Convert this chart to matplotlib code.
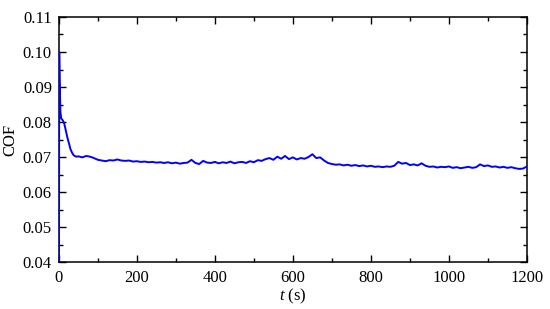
import numpy as np
import matplotlib
matplotlib.use('Agg')
import matplotlib.pyplot as plt
from matplotlib.ticker import MultipleLocator

# start-up part of the run
t_start = [0, 1, 2, 4, 6, 10, 14, 18, 22, 26, 30, 34, 38, 42, 46]
cof_start = [0.0, 0.100, 0.092, 0.083, 0.081, 0.0805, 0.0795, 0.0775, 0.0755,
             0.0738, 0.0722, 0.0712, 0.0705, 0.0702, 0.0701]

# steady part, every 10 s from 50 to 1200 s
t_steady = list(range(50, 1201, 10))
cof_steady = [
    0.0702, 0.0699, 0.0703, 0.0701, 0.0697, 0.0692, 0.0690, 0.0688, 0.0691, 0.0690,
    0.0693, 0.0690, 0.0689, 0.0690, 0.0687, 0.0688, 0.0686, 0.0687, 0.0685, 0.0686,
    0.0684, 0.0685, 0.0683, 0.0685, 0.0682, 0.0684, 0.0681, 0.0683, 0.0684, 0.0692,
    0.0683, 0.0680, 0.0689, 0.0684, 0.0683, 0.0686, 0.0682, 0.0685, 0.0683, 0.0687,
    0.0682, 0.0685, 0.0686, 0.0683, 0.0688, 0.0685, 0.0691, 0.0689, 0.0694, 0.0697,
    0.0692, 0.0701, 0.0695, 0.0703, 0.0694, 0.0699, 0.0693, 0.0697, 0.0695, 0.0700,
    0.0708, 0.0697, 0.0699, 0.0690, 0.0683, 0.0680, 0.0678, 0.0679, 0.0676, 0.0678,
    0.0675, 0.0677, 0.0674, 0.0676, 0.0673, 0.0675, 0.0672, 0.0673, 0.0671, 0.0673,
    0.0672, 0.0675, 0.0686, 0.0681, 0.0683, 0.0677, 0.0679, 0.0676, 0.0682, 0.0675,
    0.0672, 0.0673, 0.0670, 0.0672, 0.0671, 0.0673, 0.0669, 0.0671, 0.0668, 0.0670,
    0.0672, 0.0669, 0.0671, 0.0679, 0.0674, 0.0676, 0.0672, 0.0673, 0.0670, 0.0672,
    0.0669, 0.0671, 0.0668, 0.0666, 0.0667, 0.0673,
]

t = np.array(t_start + t_steady)
cof = np.array(cof_start + cof_steady)

plt.rcParams['font.family'] = ['Liberation Serif', 'DejaVu Serif']
plt.rcParams['mathtext.fontset'] = 'custom'
plt.rcParams['mathtext.it'] = 'Liberation Serif:italic'
plt.rcParams['mathtext.rm'] = 'Liberation Serif'

fig = plt.figure(figsize=(5.5, 3.09), dpi=100)
ax = fig.add_axes([0.107, 0.152, 0.851, 0.793])

# line sits on top of the frame, as in the original
ax.plot(t, cof, color='#0000ff', linewidth=1.4, zorder=3)

ax.set_xlim(0, 1200)
ax.set_ylim(0.04, 0.11)
ax.xaxis.set_major_locator(MultipleLocator(200))
ax.xaxis.set_minor_locator(MultipleLocator(100))
ax.yaxis.set_major_locator(MultipleLocator(0.01))
ax.yaxis.set_minor_locator(MultipleLocator(0.005))
ax.yaxis.set_major_formatter(plt.FormatStrFormatter('%.2f'))

ax.tick_params(which='both', direction='in', top=True, right=True, labelsize=12, width=1)
ax.tick_params(which='major', length=5)
ax.tick_params(which='minor', length=3)
ax.tick_params(axis='x', which='major', pad=6)
ax.tick_params(axis='y', which='major', pad=5)
for s in ax.spines.values():
    s.set_linewidth(1.1)

ax.set_xlabel(r'$t$ (s)', fontsize=12, labelpad=0)
ax.set_ylabel('COF', fontsize=12, labelpad=3)

fig.savefig('out.png', dpi=100)
